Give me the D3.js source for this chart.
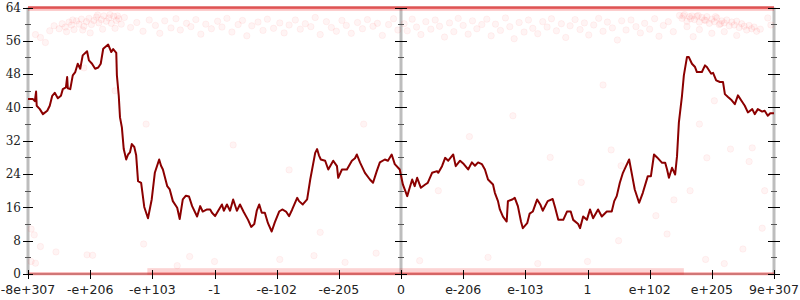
<!DOCTYPE html>
<html>
<head>
<meta charset="utf-8">
<script src="https://cdn.jsdelivr.net/npm/d3@7"></script>
<style>
  body { margin: 0; background: #fff; }
</style>
</head>
<body>
<svg id="chart" width="800" height="300"></svg>
<script>
// Tick labels along the bottom, one per unit of the x domain [0, 12].
const xTickLabels = ['-8e+307', '-e+206', '-e+103', '-1', '-e-102', '-e-205', '0',
  'e-206', 'e-103', '1', 'e+102', 'e+205', '9e+307'];
const yMajorTicks = [0, 8, 16, 24, 32, 40, 48, 56, 64];
const yMinorTicks = [4, 12, 20, 28, 36, 44, 52, 60];

// Main series: [x, value].
const linePoints = [
  [0, 42.0], [0.08, 42.0], [0.11, 41.5], [0.13, 43.8], [0.14, 40.4], [0.19, 39.6], [0.24, 38.4],
  [0.31, 39.2], [0.35, 40.4], [0.39, 42.8], [0.43, 43.5], [0.48, 42.2], [0.53, 42.8], [0.56, 44.4],
  [0.61, 44.8], [0.63, 47.3], [0.64, 44.6], [0.68, 44.4], [0.72, 47.7], [0.76, 48.5], [0.80, 50.5],
  [0.84, 49.3], [0.88, 52.5], [0.95, 53.5], [0.98, 51.3], [1.03, 50.5], [1.08, 49.3], [1.13, 49.6],
  [1.17, 50.5], [1.21, 54.1], [1.29, 55.1], [1.34, 53.3], [1.37, 54.0], [1.42, 53.1], [1.43, 47.7],
  [1.46, 42.8], [1.48, 37.6], [1.51, 35.2], [1.54, 30.0], [1.58, 27.5], [1.61, 28.7], [1.64, 29.2],
  [1.67, 31.2], [1.71, 30.5], [1.74, 28.5], [1.77, 22.3], [1.82, 21.9], [1.87, 16.1], [1.93, 13.4],
  [1.99, 17.9], [2.04, 24.3], [2.11, 27.5], [2.14, 26.0], [2.17, 25.1], [2.24, 21.1], [2.28, 20.3],
  [2.33, 17.5], [2.40, 15.9], [2.44, 13.2], [2.49, 17.9], [2.54, 18.8], [2.59, 18.6], [2.64, 16.3],
  [2.72, 13.8], [2.77, 16.3], [2.81, 15.0], [2.88, 15.5], [2.93, 15.5], [2.96, 14.7], [3.01, 13.9],
  [3.06, 15.2], [3.12, 16.7], [3.15, 15.2], [3.20, 16.7], [3.25, 15.2], [3.30, 17.9], [3.36, 15.2],
  [3.41, 16.7], [3.47, 14.9], [3.54, 13.0], [3.59, 11.3], [3.64, 12.0], [3.68, 15.2], [3.72, 16.7],
  [3.76, 14.7], [3.81, 14.7], [3.86, 12.2], [3.92, 10.2], [3.97, 12.4], [4.04, 15.0], [4.09, 15.5],
  [4.15, 15.0], [4.20, 13.9], [4.25, 15.5], [4.33, 18.3], [4.36, 17.5], [4.42, 16.7], [4.49, 17.9],
  [4.54, 22.7], [4.62, 29.1], [4.65, 30.0], [4.68, 28.5], [4.71, 27.5], [4.78, 27.2], [4.83, 25.1],
  [4.91, 27.2], [4.97, 25.9], [4.99, 23.1], [5.05, 25.1], [5.13, 25.1], [5.21, 27.2], [5.26, 27.8],
  [5.29, 28.7], [5.34, 26.8], [5.42, 24.3], [5.50, 22.7], [5.55, 21.9], [5.61, 24.7], [5.66, 26.8],
  [5.74, 27.5], [5.79, 27.2], [5.85, 28.7], [5.90, 26.4], [5.98, 25.1], [6.03, 21.5], [6.10, 18.7],
  [6.14, 20.7], [6.18, 22.7], [6.22, 21.1], [6.26, 23.1], [6.32, 20.7], [6.39, 21.5], [6.43, 21.9],
  [6.50, 24.3], [6.58, 24.7], [6.60, 24.3], [6.66, 25.9], [6.71, 27.9], [6.76, 27.2], [6.84, 28.7],
  [6.88, 25.9], [6.95, 27.2], [7.01, 26.4], [7.08, 25.1], [7.14, 26.8], [7.19, 26.0], [7.24, 26.8],
  [7.30, 26.4], [7.35, 25.1], [7.40, 22.7], [7.48, 21.5], [7.51, 19.5], [7.56, 17.5], [7.59, 15.5],
  [7.64, 13.8], [7.70, 12.6], [7.72, 17.5], [7.79, 17.9], [7.83, 18.3], [7.88, 16.3], [7.93, 12.6],
  [7.96, 11.0], [8.03, 12.2], [8.07, 14.5], [8.12, 15.0], [8.19, 17.9], [8.24, 16.7], [8.28, 15.2],
  [8.36, 17.5], [8.44, 18.0], [8.48, 15.9], [8.53, 13.0], [8.61, 13.0], [8.67, 15.0], [8.73, 15.0],
  [8.77, 13.0], [8.85, 12.0], [8.88, 11.0], [8.93, 13.8], [8.99, 13.0], [9.04, 15.5], [9.09, 13.4],
  [9.17, 15.5], [9.23, 13.8], [9.31, 15.0], [9.39, 15.0], [9.43, 17.5], [9.47, 18.7], [9.52, 21.9],
  [9.57, 24.3], [9.62, 25.9], [9.67, 27.5], [9.72, 23.5], [9.76, 20.3], [9.83, 17.1], [9.89, 19.5],
  [9.97, 23.5], [10.02, 23.5], [10.07, 28.7], [10.12, 28.0], [10.20, 26.7], [10.25, 26.7], [10.28, 25.1],
  [10.31, 23.1], [10.36, 25.5], [10.41, 23.9], [10.44, 28.3], [10.47, 36.4], [10.52, 42.8], [10.55, 47.7],
  [10.60, 52.1], [10.63, 52.1], [10.68, 50.5], [10.73, 49.7], [10.76, 48.5], [10.84, 48.5], [10.89, 50.1],
  [10.92, 49.7], [10.99, 48.1], [11.02, 48.3], [11.07, 46.5], [11.13, 46.1], [11.18, 46.1], [11.21, 43.2],
  [11.26, 42.5], [11.32, 41.7], [11.37, 40.8], [11.42, 42.9], [11.49, 41.3], [11.53, 40.4], [11.58, 38.8],
  [11.65, 39.6], [11.69, 38.4], [11.74, 39.6], [11.81, 39.0], [11.85, 39.2], [11.90, 38.0], [11.94, 38.6],
  [12, 38.6]
];

// Faint scattered samples: [x, value].
const cloudPoints = [
  [0.35, 58.4], [0.42, 59.6], [0.5, 58.9], [0.55, 60.1], [0.6, 59.3], [0.66, 60.5], [0.7, 59.8],
  [0.74, 58.7], [0.78, 60.8], [0.82, 60.0], [0.86, 61.2], [0.9, 59.5], [0.94, 60.6], [0.98, 61.4],
  [1.02, 59.9], [1.06, 60.9], [1.1, 61.7], [1.14, 60.3], [1.18, 61.1], [1.22, 62.0], [1.26, 60.7],
  [1.3, 61.5], [1.34, 60.2], [1.38, 61.9], [1.42, 60.9], [1.46, 61.3], [1.5, 60.0], [1.55, 61.6],
  [0.62, 58.2], [0.88, 58.6], [1.0, 57.9], [1.2, 58.8], [1.4, 59.0], [0.2, 56.8], [0.12, 57.5],
  [0.28, 55.6], [0.72, 61.0], [1.12, 62.2], [1.32, 62.3], [1.44, 62.0],
  [1.65, 59.2], [1.75, 60.4], [1.85, 58.3], [1.95, 61.0], [2.05, 59.7], [2.12, 57.8], [2.2, 60.8],
  [2.3, 59.1], [2.38, 61.3], [2.45, 58.6], [2.55, 60.2], [2.62, 59.4], [2.7, 61.1], [2.78, 57.6],
  [2.86, 60.0], [2.95, 58.9], [3.05, 60.7], [3.12, 59.3], [3.2, 61.4], [3.28, 58.1], [3.38, 59.9],
  [3.45, 60.9], [3.52, 57.2], [3.6, 59.6], [3.7, 60.5], [3.78, 58.5], [3.85, 61.2], [3.95, 59.0],
  [4.05, 60.3], [4.12, 57.9], [4.2, 59.8], [4.3, 61.0], [4.38, 58.8], [4.46, 60.1], [4.55, 59.4],
  [4.62, 61.6], [4.7, 57.5], [4.8, 60.6], [4.88, 59.2], [4.96, 58.3], [5.05, 60.9], [5.12, 59.7],
  [5.2, 57.8], [5.3, 60.4], [5.38, 58.9], [5.46, 61.1], [5.55, 59.5], [5.62, 60.2], [5.7, 57.3],
  [5.8, 59.9], [5.88, 61.3], [5.95, 58.6],
  [6.05, 60.1], [6.1, 58.4], [6.18, 61.2], [6.25, 59.3], [6.32, 57.5], [6.4, 60.6], [6.48, 58.8],
  [6.55, 61.0], [6.62, 59.5], [6.7, 56.9], [6.78, 60.3], [6.85, 58.2], [6.92, 61.4], [7.0, 59.7],
  [7.08, 57.6], [7.15, 60.8], [7.22, 58.9], [7.3, 59.9], [7.38, 61.2], [7.45, 57.2], [7.52, 60.0],
  [7.6, 58.5], [7.68, 61.5], [7.75, 59.4], [7.82, 56.5], [7.9, 60.4], [7.98, 58.1], [8.05, 61.0],
  [8.12, 59.0], [8.2, 57.7], [8.28, 60.6], [8.35, 59.3], [8.42, 61.3], [8.5, 58.4], [8.58, 60.1],
  [8.65, 56.8], [8.72, 59.6], [8.8, 61.1], [8.88, 58.7], [8.95, 60.3], [9.02, 57.4], [9.1, 59.8],
  [9.18, 61.4], [9.25, 58.3], [9.32, 60.5], [9.4, 59.1], [9.48, 56.2], [9.55, 60.8], [9.62, 58.6],
  [9.7, 61.0], [9.78, 59.4], [9.85, 57.9], [9.92, 60.2], [10.0, 58.8], [10.08, 61.3], [10.15, 57.1],
  [10.22, 59.7], [10.3, 60.6], [10.38, 58.2],
  [10.48, 62.1], [10.52, 61.4], [10.56, 62.3], [10.6, 60.7], [10.64, 61.8], [10.68, 62.0], [10.72, 61.1],
  [10.76, 61.9], [10.8, 60.5], [10.84, 61.6], [10.88, 61.0], [10.92, 61.8], [10.96, 60.2], [11.0, 61.2],
  [11.04, 60.6], [11.08, 61.5], [11.12, 59.9], [11.16, 60.8], [11.2, 60.3], [11.24, 61.0], [11.28, 59.6],
  [11.32, 60.5], [11.36, 59.8], [11.4, 60.7], [11.44, 59.2], [11.48, 60.1], [11.52, 59.5], [11.56, 58.6],
  [11.6, 59.7], [11.64, 58.9], [11.68, 59.3], [11.72, 58.3], [11.78, 58.8], [10.6, 59.4], [10.8, 58.7],
  [11.0, 57.8], [11.2, 58.2], [11.4, 57.3], [10.7, 57.0], [11.9, 61.5], [11.95, 59.8],
  [10.54, 62.0], [10.66, 61.3], [10.78, 62.1], [10.9, 60.9], [11.06, 61.8], [11.14, 60.1],
  [0.05, 10.8], [0.1, 9.4], [0.2, 6.6], [0.12, 2.6], [0.05, 3.0], [0.45, 5.3], [0.95, 4.6],
  [1.04, 4.5], [1.86, 7.2], [2.4, 2.0], [2.6, 4.2], [3.0, 3.0], [4.05, 3.5], [4.6, 4.4], [5.1, 2.8],
  [5.6, 5.0], [0.9, 49.5], [1.4, 44.0], [1.9, 36.0], [3.3, 31.0], [4.2, 25.0], [4.7, 10.0], [5.4, 36.0],
  [6.6, 20.0], [7.1, 33.0], [7.8, 38.0], [8.4, 28.0], [8.9, 22.0], [9.5, 8.0], [10.1, 14.0], [10.8, 36.0],
  [11.3, 30.0], [11.6, 27.0], [11.85, 20.0], [11.5, 6.0], [10.9, 3.5], [11.2, 2.5], [9.0, 3.0], [6.3, 3.2],
  [7.4, 4.0], [8.2, 2.5], [10.65, 20.0], [10.39, 17.8], [9.38, 29.8], [10.92, 27.9], [11.65, 30.3],
  [11.81, 11.0], [10.28, 9.6], [9.54, 26.0], [9.25, 45.4], [11.04, 41.6]
];

// Runs where samples pile up into solid strips: [x0, x1, vLow, vHigh].
const bands = [
  [0, 12, 63.2, 63.9],
  [0, 12, 63.7, 64.3],
  [0, 12, -0.3, 0.4],
  [1.92, 10.55, -0.2, 1.4]
];

const svg = d3.select('#chart');

// Dimensions.
const width = 800,
  height = 300,
  margin = { top: 7.5, right: 26, bottom: 26, left: 28 };

// Scales.
const xScale = d3.scaleLinear().domain([0, 12]).range([margin.left, width - margin.right]);
const yScale = d3.scaleLinear().domain([0, 64]).range([height - margin.bottom, margin.top]);

const axisGrey = '#bdbdbd';

// Frame lines (left, centre, right, top, bottom).
[0, 6, 12].forEach(v => {
  svg.append('line')
    .attr('x1', xScale(v)).attr('x2', xScale(v))
    .attr('y1', yScale(0)).attr('y2', yScale(64))
    .attr('stroke', axisGrey).attr('stroke-width', 3);
});
[0, 64].forEach(v => {
  svg.append('line')
    .attr('x1', xScale(0)).attr('x2', xScale(12))
    .attr('y1', yScale(v)).attr('y2', yScale(v))
    .attr('stroke', axisGrey).attr('stroke-width', 2);
});

// Strips.
const bandOpacity = [0.25, 0.6, 0.4, 0.18];
svg.append('g')
  .selectAll('rect')
  .data(bands)
  .join('rect')
  .attr('x', d => xScale(d[0]))
  .attr('width', d => xScale(d[1]) - xScale(d[0]))
  .attr('y', d => yScale(d[3]))
  .attr('height', d => yScale(d[2]) - yScale(d[3]))
  .attr('fill', '#f01010')
  .attr('fill-opacity', (d, i) => bandOpacity[i]);

// Cloud of samples.
svg.append('g')
  .selectAll('circle')
  .data(cloudPoints)
  .join('circle')
  .attr('cx', d => xScale(d[0]))
  .attr('cy', d => yScale(d[1]))
  .attr('r', 3.2)
  .attr('fill', '#ff3030')
  .attr('fill-opacity', 0.05)
  .attr('stroke', '#ff3030')
  .attr('stroke-opacity', 0.05);

// Line.
svg.append('path')
  .datum(linePoints)
  .attr('fill', 'none')
  .attr('stroke', '#8b0000')
  .attr('stroke-width', 2)
  .attr('stroke-linejoin', 'round')
  .attr('d', d3.line().x(d => xScale(d[0])).y(d => yScale(d[1])));

// Y ticks on the three vertical axes.
const ticks = svg.append('g').attr('stroke', '#000').attr('stroke-width', 1);
[0, 6, 12].forEach(v => {
  const x = xScale(v);
  const big = v === 0 ? 5 : 6;
  yMajorTicks.forEach(t => {
    ticks.append('line')
      .attr('x1', x - big).attr('x2', x + big)
      .attr('y1', Math.round(yScale(t)) + 0.5).attr('y2', Math.round(yScale(t)) + 0.5);
  });
  yMinorTicks.forEach(t => {
    ticks.append('line')
      .attr('x1', x - 3).attr('x2', x + 3)
      .attr('y1', Math.round(yScale(t)) + 0.5).attr('y2', Math.round(yScale(t)) + 0.5)
      .attr('stroke', '#555');
  });
});

// X ticks.
xTickLabels.forEach((label, i) => {
  const x = Math.round(xScale(i)) + 0.5;
  ticks.append('line')
    .attr('x1', x).attr('x2', x)
    .attr('y1', yScale(0) - 4).attr('y2', yScale(0) + 5);
});

// Y labels.
svg.append('g')
  .selectAll('text')
  .data(yMajorTicks)
  .join('text')
  .attr('x', xScale(0) - 7)
  .attr('y', d => yScale(d))
  .attr('dy', '0.36em')
  .attr('text-anchor', 'end')
  .attr('font-family', 'DejaVu Serif')
  .attr('font-size', 12)
  .attr('fill', '#222')
  .text(d => d);

// X labels.
svg.append('g')
  .selectAll('text')
  .data(xTickLabels)
  .join('text')
  .attr('x', (d, i) => xScale(i))
  .attr('y', yScale(0) + 20)
  .attr('text-anchor', 'middle')
  .attr('font-family', 'DejaVu Sans')
  .attr('font-size', 12.5)
  .attr('fill', '#222')
  .text(d => d);
</script>
</body>
</html>
